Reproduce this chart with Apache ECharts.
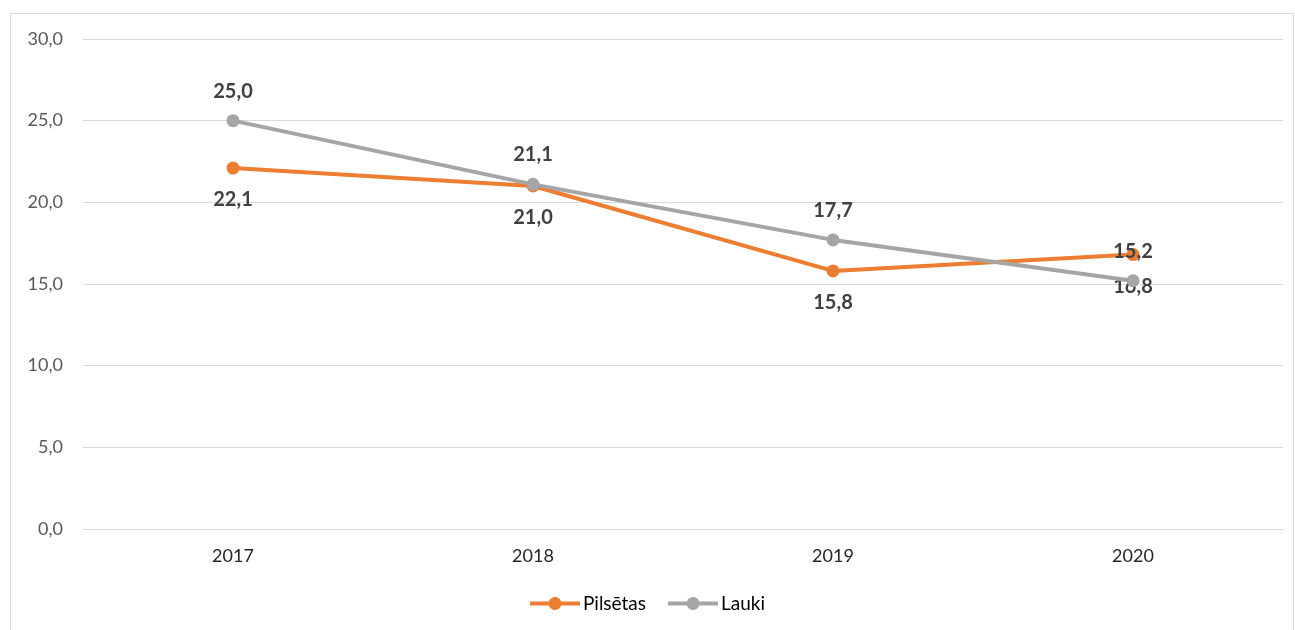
<!DOCTYPE html>
<html>
<head>
<meta charset="utf-8">
<script src="https://cdn.jsdelivr.net/npm/echarts@6/dist/echarts.min.js"></script>
<style>
  html, body { margin: 0; padding: 0; background: #fff; }
  #chart { width: 1295px; height: 630px; }
</style>
</head>
<body>
<div id="chart"></div>
<script>
// Years on the category axis
const years = ['2017', '2018', '2019', '2020'];
// Values per series
const pilsetas = [22.1, 21.0, 15.8, 16.8];
const lauki = [25.0, 21.1, 17.7, 15.2];
// Value axis range
const yMin = 0;
const yMax = 30;
const yStep = 5;

const fmt = v => Number(v).toFixed(1).replace('.', ',');
const FONT = 'Lato, "Liberation Sans", sans-serif';

// Legend marker: thick line segment with a dot in the middle
const LEGEND_ICON = 'path://M0,4.5H18.82A6.5,6.5 0 0 1 31.18,4.5H50V8.5H31.18A6.5,6.5 0 0 1 18.82,8.5H0Z';

const chart = echarts.init(document.getElementById('chart'), null, { renderer: 'canvas' });

chart.setOption({
  animation: false,
  backgroundColor: '#ffffff',
  textStyle: { fontFamily: FONT },
  graphic: [{
    type: 'rect',
    shape: { x: 10.5, y: 13.5, width: 1283, height: 640 },
    style: { fill: 'none', stroke: '#d9d9d9', lineWidth: 1 },
    silent: true
  }],
  grid: { left: 83, right: 12, top: 39, bottom: 101 },
  legend: {
    bottom: 12,
    left: 'center',
    itemWidth: 50,
    itemHeight: 13,
    itemGap: 22,
    symbolKeepAspect: false,
    icon: LEGEND_ICON,
    textStyle: { fontSize: 19, color: '#000000', fontFamily: FONT, padding: [0, 0, 0, -2] },
    data: ['Pilsētas', 'Lauki']
  },
  xAxis: {
    type: 'category',
    data: years,
    boundaryGap: true,
    axisLine: { show: true, lineStyle: { color: '#d9d9d9', width: 1 } },
    axisTick: { show: false },
    axisLabel: { fontSize: 18, color: '#262626', margin: 18, fontFamily: FONT }
  },
  yAxis: {
    type: 'value',
    min: yMin,
    max: yMax,
    interval: yStep,
    axisLine: { show: false },
    axisTick: { show: false },
    splitLine: { lineStyle: { color: '#d9d9d9', width: 1 } },
    axisLabel: { fontSize: 18, color: '#595959', margin: 20, formatter: fmt, fontFamily: FONT }
  },
  series: [
    {
      name: 'Pilsētas',
      type: 'line',
      data: pilsetas,
      color: '#ed7d31',
      lineStyle: { width: 4, color: '#ed7d31' },
      symbol: 'circle',
      symbolSize: 13,
      itemStyle: { color: '#ed7d31' },
      label: {
        show: true,
        position: 'bottom',
        distance: 15,
        formatter: p => fmt(p.value),
        fontSize: 20,
        fontWeight: 'bold',
        color: '#404040',
        fontFamily: FONT
      },
      z: 2
    },
    {
      name: 'Lauki',
      type: 'line',
      data: lauki,
      color: '#a5a5a5',
      lineStyle: { width: 4, color: '#a5a5a5' },
      symbol: 'circle',
      symbolSize: 13,
      itemStyle: { color: '#a5a5a5' },
      label: {
        show: true,
        position: 'top',
        distance: 13,
        formatter: p => fmt(p.value),
        fontSize: 20,
        fontWeight: 'bold',
        color: '#404040',
        fontFamily: FONT
      },
      z: 3
    }
  ]
});
</script>
</body>
</html>
